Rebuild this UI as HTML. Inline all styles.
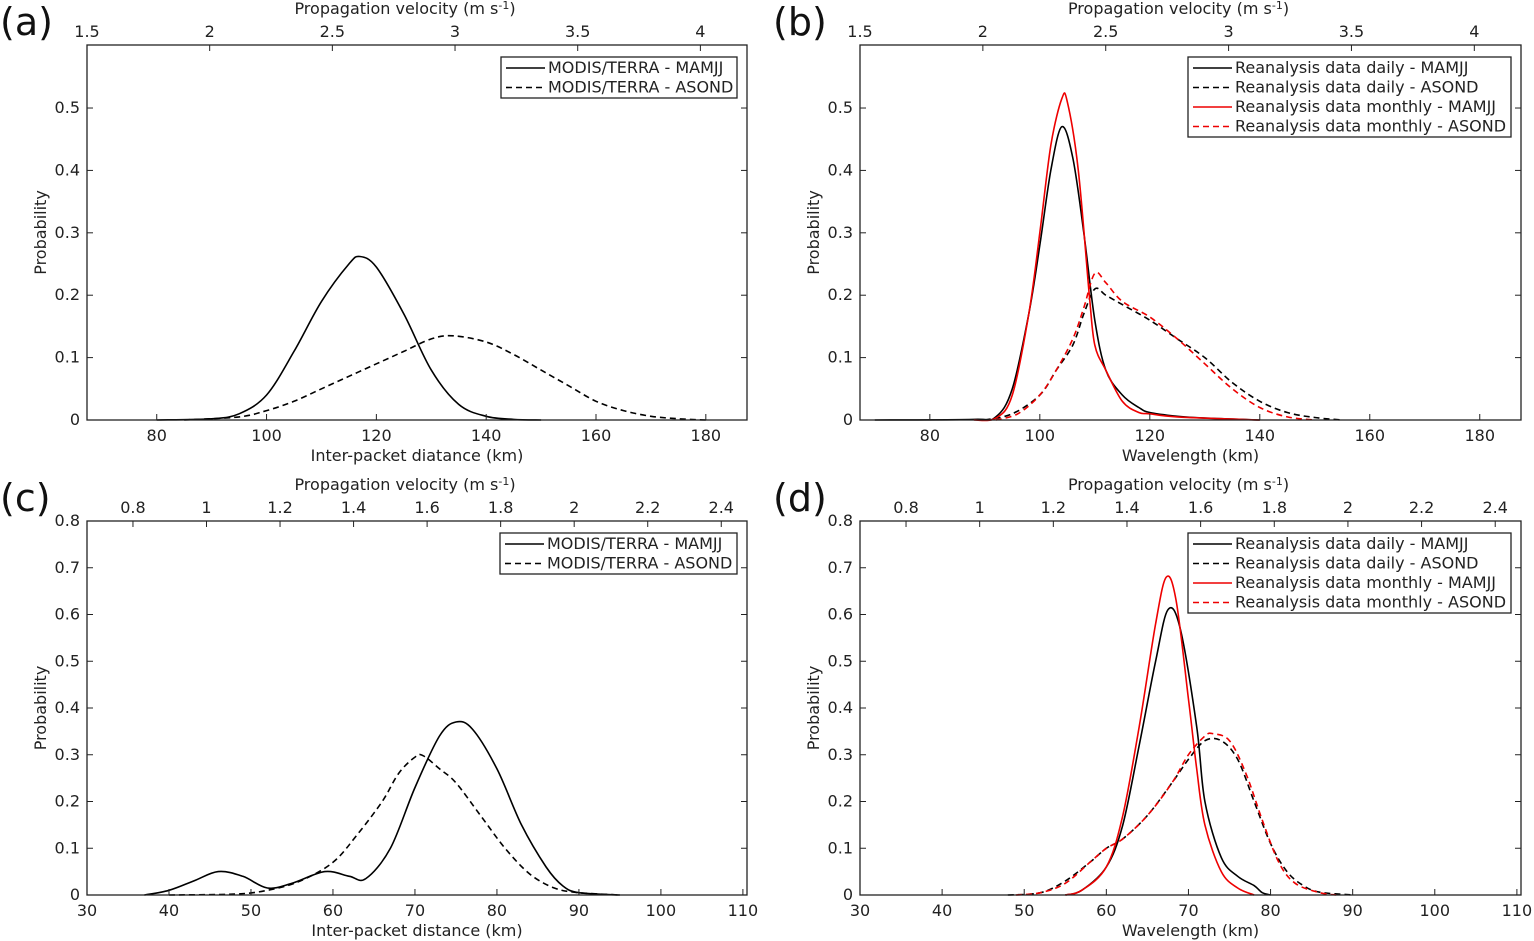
<!DOCTYPE html>
<html><head><meta charset="utf-8"><style>
body{margin:0;background:#fff;}
svg{display:block;font-family:"DejaVu Sans","Liberation Sans",sans-serif;}
</style></head><body>
<svg id="fig" width="1534" height="941" viewBox="0 0 1534 941" xmlns="http://www.w3.org/2000/svg"></svg>
<script>
// ---- data ----
const aMamjjX=[80,90,95,100,105,110,115,117,120,125,130,135,140,145,150];
const aMamjjY=[0,0.002,0.01,0.04,0.11,0.19,0.25,0.262,0.245,0.17,0.08,0.025,0.006,0.001,0];
const aAsondX=[85,95,100,105,110,115,120,125,130,134,140,145,150,155,160,165,170,175,180];
const aAsondY=[0,0.005,0.015,0.03,0.05,0.07,0.09,0.11,0.13,0.135,0.125,0.105,0.08,0.055,0.03,0.015,0.006,0.002,0];
const bDailyMX=[70,88,92,95,98,100,102,104,106,108,110,112,115,118,120,125,130,140];
const bDailyMY=[0,0.001,0.005,0.05,0.17,0.28,0.4,0.47,0.42,0.3,0.16,0.08,0.04,0.02,0.012,0.006,0.003,0];
const bMonMX=[88,92,95,98,100,102,104,105,107,109,110,112,115,118,120,125,140];
const bMonMY=[0,0.003,0.04,0.17,0.3,0.44,0.515,0.51,0.4,0.2,0.12,0.08,0.03,0.012,0.01,0.005,0];
const bDailyAX=[90,95,100,103,106,108,110,112,115,120,125,130,135,140,145,150,155];
const bDailyAY=[0,0.01,0.04,0.08,0.12,0.17,0.21,0.2,0.185,0.16,0.13,0.1,0.06,0.03,0.012,0.004,0];
const bMonAX=[92,96,100,103,106,108,110,112,115,120,125,130,135,140,145,150];
const bMonAY=[0,0.01,0.04,0.08,0.13,0.18,0.235,0.22,0.19,0.165,0.13,0.09,0.05,0.02,0.005,0];
const cMamjjX=[37,40,43,46,49,52,55,59,62,64,67,70,73,75,77,80,83,86,88,90,95];
const cMamjjY=[0,0.01,0.03,0.05,0.04,0.015,0.025,0.05,0.04,0.035,0.1,0.23,0.34,0.37,0.355,0.27,0.15,0.06,0.02,0.005,0];
const cAsondX=[40,48,52,56,60,63,66,68,70,71,73,75,78,81,84,87,90,95];
const cAsondY=[0,0.002,0.01,0.03,0.07,0.13,0.2,0.26,0.295,0.298,0.27,0.24,0.17,0.1,0.045,0.015,0.005,0];
const dDailyMX=[55,57,60,62,64,66,67.5,69,71,72,74,76,78,79,80];
const dDailyMY=[0,0.01,0.06,0.15,0.32,0.5,0.61,0.57,0.36,0.2,0.08,0.04,0.02,0.005,0];
const dMonMX=[55,57,60,62,64,66,67.3,68.5,70,71,72,74,76,78];
const dMonMY=[0,0.01,0.06,0.17,0.36,0.58,0.68,0.63,0.42,0.27,0.15,0.05,0.015,0];
const dDailyAX=[48,52,55,58,60,62,65,68,70,72,74,76,78,80,82,84,86,90];
const dDailyAY=[0,0.005,0.03,0.07,0.1,0.12,0.17,0.24,0.29,0.33,0.33,0.29,0.2,0.11,0.05,0.02,0.006,0];
const dMonAX=[49,52,55,58,60,62,65,68,70,72,73,75,77,79,81,83,86,88];
const dMonAY=[0,0.005,0.025,0.07,0.1,0.12,0.17,0.24,0.3,0.34,0.345,0.33,0.26,0.16,0.07,0.025,0.005,0];
const abXTicks=[80,100,120,140,160,180];
const cdXTicks=[30,40,50,60,70,80,90,100,110];
const abYTicks=[0,0.1,0.2,0.3,0.4,0.5];
const cdYTicks=[0,0.1,0.2,0.3,0.4,0.5,0.6,0.7,0.8];
const abTopTicks=[1.5,2,2.5,3,3.5,4];
const cdTopTicks=[0.8,1,1.2,1.4,1.6,1.8,2,2.2,2.4];

const NS="http://www.w3.org/2000/svg";
const svg=document.getElementById('fig');
function mk(tag,attrs,parent,text){const e=document.createElementNS(NS,tag);for(const k in attrs)e.setAttribute(k,attrs[k]);if(text!==undefined)e.textContent=text;(parent||svg).appendChild(e);return e;}
function smooth(pts){
  let d='M'+pts[0][0].toFixed(1)+','+pts[0][1].toFixed(1);
  for(let i=0;i<pts.length-1;i++){
    const p0=pts[Math.max(0,i-1)],p1=pts[i],p2=pts[i+1],p3=pts[Math.min(pts.length-1,i+2)];
    const c1=[p1[0]+(p2[0]-p0[0])/6,p1[1]+(p2[1]-p0[1])/6];
    const c2=[p2[0]-(p3[0]-p1[0])/6,p2[1]-(p3[1]-p1[1])/6];
    d+=' C'+c1[0].toFixed(1)+','+c1[1].toFixed(1)+' '+c2[0].toFixed(1)+','+c2[1].toFixed(1)+' '+p2[0].toFixed(1)+','+p2[1].toFixed(1);
  }
  return d;
}
const FS=16;
function panel(p){
  const g=mk('g',{});
  
  
  const sx=v=>p.L+(v-p.x0)*(p.R-p.L)/(p.x1-p.x0);
  const sy=v=>p.B-(v-p.y0)*(p.B-p.T)/(p.y1-p.y0);
  const tx=v=>p.L+(v-p.t0)*(p.R-p.L)/(p.t1-p.t0);
  p.series.forEach(s=>{
    const pts=s.x.map((v,i)=>[sx(v),sy(s.y[i])]);
    const path=mk('path',{d:smooth(pts),fill:'none',stroke:s.c,'stroke-width':1.6,'stroke-dasharray':s.dash?'6,4':'none','stroke-linejoin':'round'},g);
    
    
  });
  const box=mk('rect',{x:p.L,y:p.T,width:p.R-p.L,height:p.B-p.T,fill:'none',stroke:'#222','stroke-width':1.3},g);
  
  
  p.xt.forEach(v=>{const x=sx(v);mk('line',{x1:x,x2:x,y1:p.B,y2:p.B-6,stroke:'#222'},g);
    const t=mk('text',{x:x,y:p.B+21,'font-size':FS,'text-anchor':'middle',fill:'#222'},g,String(v));
    
    });
  p.tt.forEach(v=>{const x=tx(v);mk('line',{x1:x,x2:x,y1:p.T,y2:p.T+6,stroke:'#222'},g);
    const t=mk('text',{x:x,y:p.T-8,'font-size':FS,'text-anchor':'middle',fill:'#222'},g,String(v));
    
    });
  p.yt.forEach(v=>{const y=sy(v);mk('line',{x1:p.L,x2:p.L+6,y1:y,y2:y,stroke:'#222'},g);mk('line',{x1:p.R,x2:p.R-6,y1:y,y2:y,stroke:'#222'},g);
    const t=mk('text',{x:p.L-7,y:y+5,'font-size':FS,'text-anchor':'end',fill:'#222'},g,String(v));
    
    });
  const xl=mk('text',{x:(p.L+p.R)/2,y:p.B+41,'font-size':FS,'text-anchor':'middle',fill:'#222'},g,p.xlabel);
  
  
  const tl=mk('text',{x:(p.L+p.R)/2-12,y:p.T-31,'font-size':FS,'text-anchor':'middle',fill:'#222'},g);
  
  
  tl.innerHTML='Propagation velocity (m s<tspan dy="-5" font-size="11">-1</tspan><tspan dy="5">)</tspan>';
  const yl=mk('text',{x:0,y:0,'font-size':FS,'text-anchor':'middle',fill:'#222',transform:`translate(${p.L-41},${(p.T+p.B)/2}) rotate(-90)`},g,'Probability');
  
  
  const pl=mk('text',{x:p.L-87,y:p.T-10,'font-size':38,fill:'#111'},g,'('+p.id+')');
  
  
  const lg=mk('g',{},g);
  
  
  mk('rect',{x:p.lx,y:p.T+12,width:p.lw,height:p.series.length*19.5+2,fill:'#fff',stroke:'#222','stroke-width':1.3},lg);
  p.series.forEach((s,i)=>{const y=p.T+12+11+i*19.5;
    mk('line',{x1:p.lx+5,x2:p.lx+44,y1:y,y2:y,stroke:s.c,'stroke-width':1.6,'stroke-dasharray':s.dash?'6,4':'none'},lg);
    const t=mk('text',{x:p.lx+47,y:y+5,'font-size':FS,fill:'#222'},lg,s.label);
    
    });
}
const ab={x0:67.3,x1:187.5,y0:0,y1:0.601,t0:1.5,t1:4.19};
panel(Object.assign({id:'a',L:87,R:747,T:45,B:420,xt:abXTicks,yt:abYTicks,tt:abTopTicks,xlabel:'Inter-packet diatance (km)',lx:501,lw:236,
 series:[{x:aMamjjX,y:aMamjjY,c:'#000',dash:false,name:'modis-mamjj-curve',label:'MODIS/TERRA - MAMJJ'},
         {x:aAsondX,y:aAsondY,c:'#000',dash:true,name:'modis-asond-curve',label:'MODIS/TERRA - ASOND'}]},ab));
panel(Object.assign({id:'b',L:860,R:1521,T:45,B:420,xt:abXTicks,yt:abYTicks,tt:abTopTicks,xlabel:'Wavelength (km)',lx:1188,lw:323,
 series:[{x:bDailyMX,y:bDailyMY,c:'#000',dash:false,name:'daily-mamjj-curve',label:'Reanalysis data daily - MAMJJ'},
         {x:bDailyAX,y:bDailyAY,c:'#000',dash:true,name:'daily-asond-curve',label:'Reanalysis data daily - ASOND'},
         {x:bMonMX,y:bMonMY,c:'#e00',dash:false,name:'monthly-mamjj-curve',label:'Reanalysis data monthly - MAMJJ'},
         {x:bMonAX,y:bMonAY,c:'#e00',dash:true,name:'monthly-asond-curve',label:'Reanalysis data monthly - ASOND'}]},ab));
const cd={x0:30,x1:110.5,y0:0,y1:0.8,t0:0.675,t1:2.47};
panel(Object.assign({id:'c',L:87,R:747,T:521,B:895,xt:cdXTicks,yt:cdYTicks,tt:cdTopTicks,xlabel:'Inter-packet distance (km)',lx:500,lw:237,
 series:[{x:cMamjjX,y:cMamjjY,c:'#000',dash:false,name:'modis-mamjj-curve',label:'MODIS/TERRA - MAMJJ'},
         {x:cAsondX,y:cAsondY,c:'#000',dash:true,name:'modis-asond-curve',label:'MODIS/TERRA - ASOND'}]},cd));
panel(Object.assign({id:'d',L:860,R:1521,T:521,B:895,xt:cdXTicks,yt:cdYTicks,tt:cdTopTicks,xlabel:'Wavelength (km)',lx:1188,lw:323,
 series:[{x:dDailyMX,y:dDailyMY,c:'#000',dash:false,name:'daily-mamjj-curve',label:'Reanalysis data daily - MAMJJ'},
         {x:dDailyAX,y:dDailyAY,c:'#000',dash:true,name:'daily-asond-curve',label:'Reanalysis data daily - ASOND'},
         {x:dMonMX,y:dMonMY,c:'#e00',dash:false,name:'monthly-mamjj-curve',label:'Reanalysis data monthly - MAMJJ'},
         {x:dMonAX,y:dMonAY,c:'#e00',dash:true,name:'monthly-asond-curve',label:'Reanalysis data monthly - ASOND'}]},cd));
</script>
</body></html>
